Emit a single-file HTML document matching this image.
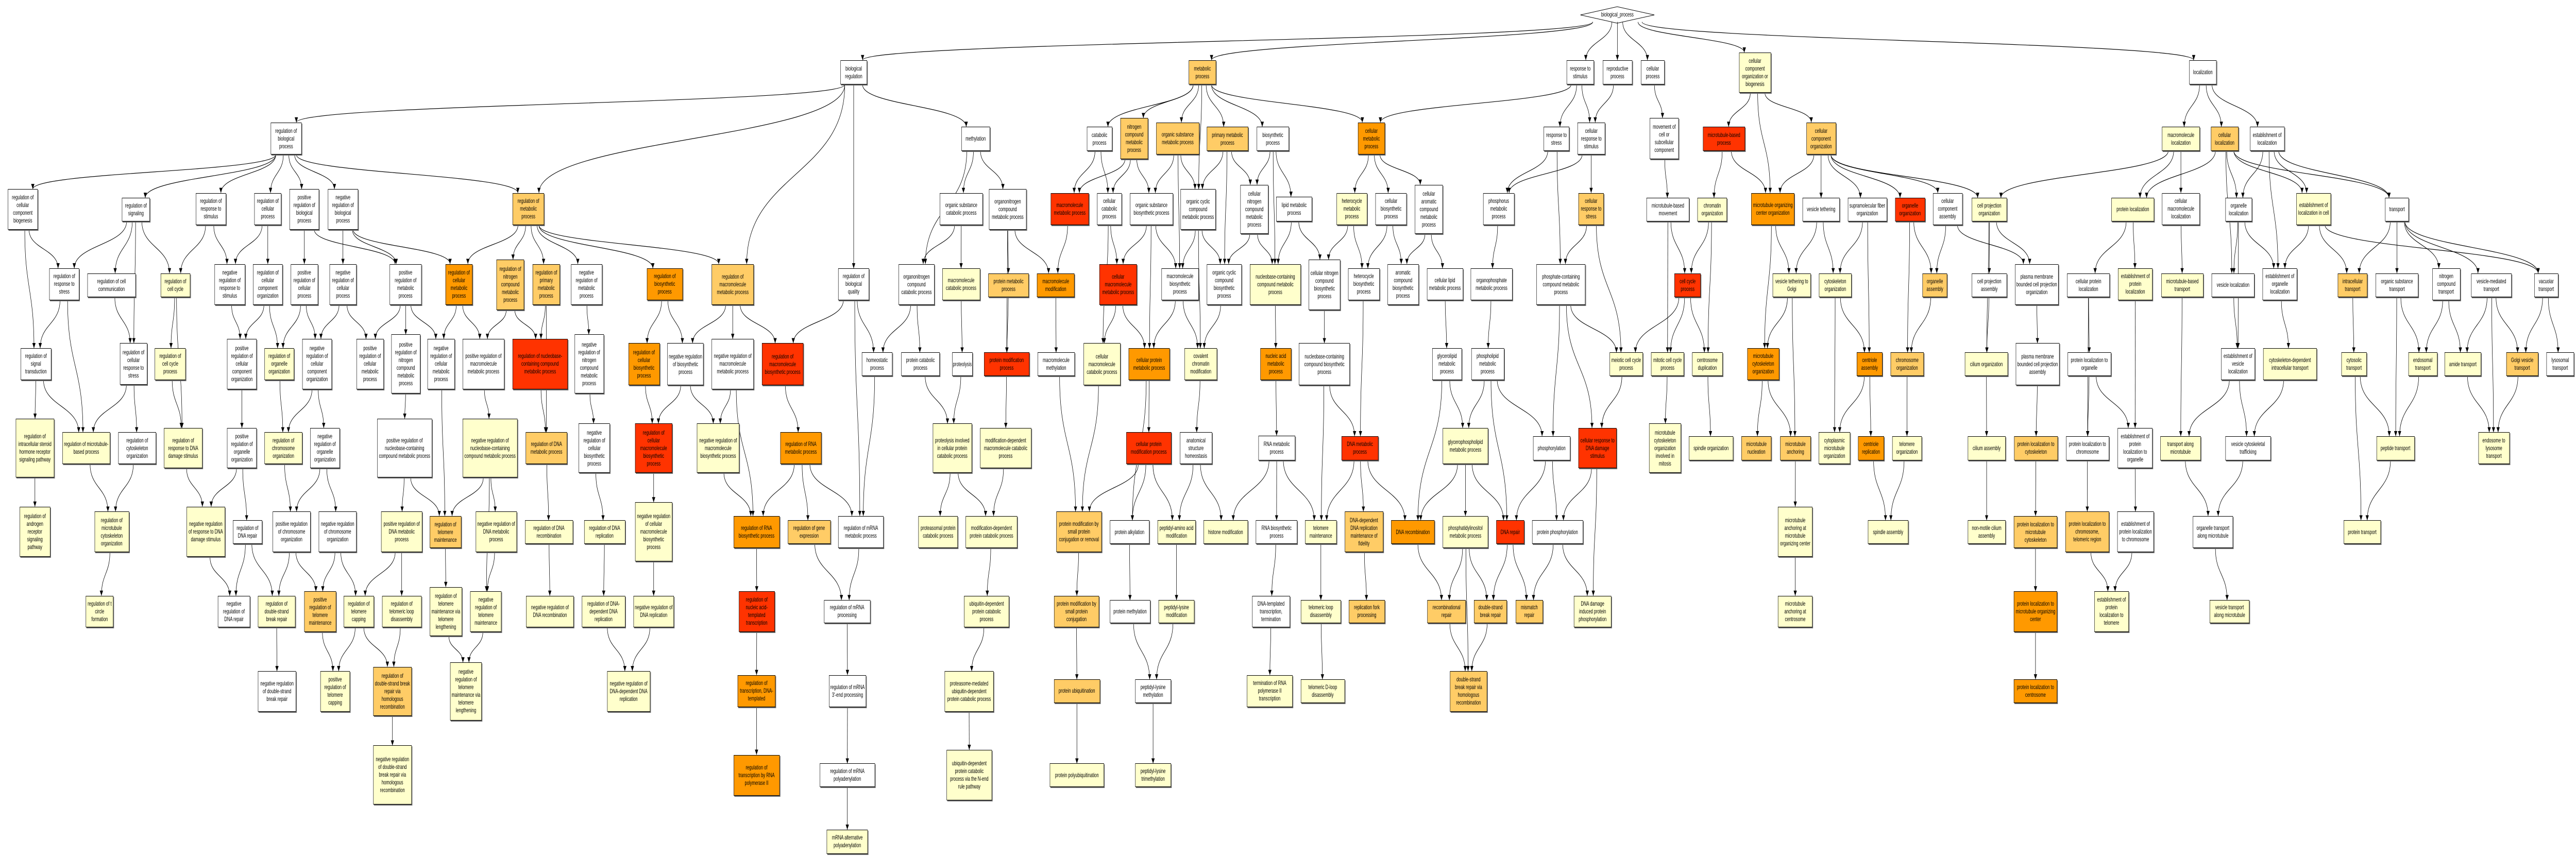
<!DOCTYPE html>
<html><head><meta charset="utf-8">
<style>
html,body{margin:0;padding:0;background:#fff;overflow:hidden;}
#c{position:relative;width:7840px;height:1664px;overflow:hidden;background:#fff;font-family:"Liberation Sans",sans-serif;transform-origin:0 0;}
.g{position:absolute;left:0;top:0;--sx:1.25;}
.n{position:absolute;box-sizing:border-box;
left:calc((var(--o) + var(--x)*var(--sx))*1px);top:calc(var(--y)*1.0612px);
width:calc((var(--x2) - var(--x))*var(--sx)*1px);height:calc((var(--y2) - var(--y))*1.0612px);
border:1px solid #000;box-shadow:2px 2px 0 #666;display:flex;align-items:center;justify-content:center;
text-align:center;font-size:12px;line-height:15px;padding:1px 3px;overflow:hidden;color:#000;z-index:2;background:#fff;}
.W{background:#fff}.Y{background:#ffffcc}.L{background:#ffcc66}.O{background:#ff9900}.R{background:#ff3300}
.root{border:none;box-shadow:none;background:transparent;}
svg#e{position:absolute;left:0;top:0;z-index:1;}
</style></head><body><div id="c">
<svg id="e" width="7840" height="1664"><defs><marker id="a" viewBox="0 0 10 10" refX="10" refY="5" markerWidth="10" markerHeight="10" markerUnits="userSpaceOnUse" orient="auto"><path d="M0,0L10,5L0,10z" fill="#000"/></marker></defs>
<polygon points="4810,29 4922,13 5035,29 4922,45" fill="#fff" stroke="#000"/></svg>

<div class="g" style="--o:0">
<div class="n W" style="--x:659;--y:224;--x2:734;--y2:283">regulation of biological process</div>
<div class="n W" style="--x:19;--y:346;--x2:92;--y2:420">regulation of cellular component biogenesis</div>
<div class="n W" style="--x:297;--y:362;--x2:365;--y2:405">regulation of signaling</div>
<div class="n W" style="--x:477;--y:353;--x2:550;--y2:412">regulation of response to stimulus</div>
<div class="n W" style="--x:619;--y:353;--x2:685;--y2:412">regulation of cellular process</div>
<div class="n W" style="--x:705;--y:346;--x2:777;--y2:420">positive regulation of biological process</div>
<div class="n W" style="--x:798;--y:346;--x2:872;--y2:420">negative regulation of biological process</div>
<div class="n L" style="--x:1248;--y:353;--x2:1325;--y2:412">regulation of metabolic process</div>
<div class="n W" style="--x:120;--y:491;--x2:193;--y2:549">regulation of response to stress</div>
<div class="n W" style="--x:213;--y:500;--x2:330;--y2:544">regulation of cell communication</div>
<div class="n Y" style="--x:391;--y:500;--x2:463;--y2:544">regulation of cell cycle</div>
<div class="n W" style="--x:522;--y:483;--x2:597;--y2:558">negative regulation of response to stimulus</div>
<div class="n W" style="--x:616;--y:483;--x2:688;--y2:558">regulation of cellular component organization</div>
<div class="n W" style="--x:708;--y:483;--x2:774;--y2:558">positive regulation of cellular process</div>
<div class="n W" style="--x:802;--y:483;--x2:868;--y2:558">negative regulation of cellular process</div>
<div class="n W" style="--x:949;--y:483;--x2:1026;--y2:558">positive regulation of metabolic process</div>
<div class="n O" style="--x:1085;--y:483;--x2:1150;--y2:558">regulation of cellular metabolic process</div>
<div class="n L" style="--x:1209;--y:475;--x2:1276;--y2:567">regulation of nitrogen compound metabolic process</div>
<div class="n L" style="--x:1297;--y:483;--x2:1363;--y2:558">regulation of primary metabolic process</div>
<div class="n W" style="--x:1390;--y:483;--x2:1466;--y2:558">negative regulation of metabolic process</div>
<div class="n W" style="--x:50;--y:637;--x2:125;--y2:695">regulation of signal transduction</div>
<div class="n W" style="--x:292;--y:628;--x2:358;--y2:704">regulation of cellular response to stress</div>
<div class="n Y" style="--x:377;--y:637;--x2:452;--y2:695">regulation of cell cycle process</div>
<div class="n W" style="--x:553;--y:620;--x2:625;--y2:712">positive regulation of cellular component organization</div>
<div class="n Y" style="--x:644;--y:637;--x2:716;--y2:695">regulation of organelle organization</div>
<div class="n W" style="--x:736;--y:620;--x2:808;--y2:712">negative regulation of cellular component organization</div>
<div class="n W" style="--x:868;--y:620;--x2:934;--y2:712">positive regulation of cellular metabolic process</div>
<div class="n W" style="--x:953;--y:612;--x2:1023;--y2:720">positive regulation of nitrogen compound metabolic process</div>
<div class="n W" style="--x:1041;--y:620;--x2:1107;--y2:712">negative regulation of cellular metabolic process</div>
<div class="n W" style="--x:1126;--y:620;--x2:1228;--y2:712">positive regulation of macromolecule metabolic process</div>
<div class="n R" style="--x:1248;--y:620;--x2:1382;--y2:712">regulation of nucleobase-containing compound metabolic process</div>
<div class="n W" style="--x:1399;--y:612;--x2:1470;--y2:720">negative regulation of nitrogen compound metabolic process</div>
<div class="n Y" style="--x:38;--y:766;--x2:132;--y2:874">regulation of intracellular steroid hormone receptor signaling pathway</div>
<div class="n Y" style="--x:152;--y:791;--x2:268;--y2:849">regulation of microtubule-based process</div>
<div class="n W" style="--x:288;--y:791;--x2:380;--y2:849">regulation of cytoskeleton organization</div>
<div class="n Y" style="--x:399;--y:783;--x2:493;--y2:857">regulation of response to DNA damage stimulus</div>
<div class="n W" style="--x:553;--y:783;--x2:625;--y2:857">positive regulation of organelle organization</div>
<div class="n Y" style="--x:644;--y:791;--x2:736;--y2:849">regulation of chromosome organization</div>
<div class="n W" style="--x:755;--y:783;--x2:827;--y2:857">negative regulation of organelle organization</div>
<div class="n W" style="--x:918;--y:766;--x2:1052;--y2:874">positive regulation of nucleobase-containing compound metabolic process</div>
<div class="n Y" style="--x:1126;--y:766;--x2:1260;--y2:874">negative regulation of nucleobase-containing compound metabolic process</div>
<div class="n L" style="--x:1280;--y:791;--x2:1381;--y2:849">regulation of DNA metabolic process</div>
<div class="n W" style="--x:1409;--y:775;--x2:1485;--y2:865">negative regulation of cellular biosynthetic process</div>
<div class="n Y" style="--x:48;--y:927;--x2:122;--y2:1019">regulation of androgen receptor signaling pathway</div>
<div class="n Y" style="--x:230;--y:936;--x2:314;--y2:1010">regulation of microtubule cytoskeleton organization</div>
<div class="n Y" style="--x:454;--y:927;--x2:548;--y2:1019">negative regulation of response to DNA damage stimulus</div>
<div class="n W" style="--x:567;--y:952;--x2:638;--y2:995">regulation of DNA repair</div>
<div class="n W" style="--x:664;--y:936;--x2:756;--y2:1010">positive regulation of chromosome organization</div>
<div class="n W" style="--x:776;--y:936;--x2:868;--y2:1010">negative regulation of chromosome organization</div>
<div class="n Y" style="--x:928;--y:936;--x2:1028;--y2:1010">positive regulation of DNA metabolic process</div>
<div class="n L" style="--x:1046;--y:944;--x2:1123;--y2:1003">regulation of telomere maintenance</div>
<div class="n Y" style="--x:1158;--y:936;--x2:1258;--y2:1010">negative regulation of DNA metabolic process</div>
<div class="n Y" style="--x:1278;--y:952;--x2:1395;--y2:995">regulation of DNA recombination</div>
<div class="n Y" style="--x:1422;--y:952;--x2:1522;--y2:995">regulation of DNA replication</div>
<div class="n Y" style="--x:209;--y:1090;--x2:276;--y2:1148">regulation of t circle formation</div>
<div class="n W" style="--x:530;--y:1090;--x2:609;--y2:1148">negative regulation of DNA repair</div>
<div class="n Y" style="--x:628;--y:1090;--x2:719;--y2:1148">regulation of double-strand break repair</div>
<div class="n L" style="--x:741;--y:1082;--x2:818;--y2:1156">positive regulation of telomere maintenance</div>
<div class="n Y" style="--x:837;--y:1090;--x2:910;--y2:1148">regulation of telomere capping</div>
<div class="n Y" style="--x:930;--y:1090;--x2:1026;--y2:1148">regulation of telomeric loop disassembly</div>
<div class="n Y" style="--x:1046;--y:1074;--x2:1125;--y2:1164">regulation of telomere maintenance via telomere lengthening</div>
<div class="n Y" style="--x:1145;--y:1082;--x2:1221;--y2:1156">negative regulation of telomere maintenance</div>
<div class="n Y" style="--x:1281;--y:1090;--x2:1397;--y2:1148">negative regulation of DNA recombination</div>
<div class="n Y" style="--x:1417;--y:1090;--x2:1522;--y2:1148">regulation of DNA-dependent DNA replication</div>
<div class="n W" style="--x:628;--y:1228;--x2:721;--y2:1302">negative regulation of double-strand break repair</div>
<div class="n Y" style="--x:780;--y:1228;--x2:852;--y2:1302">positive regulation of telomere capping</div>
<div class="n L" style="--x:909;--y:1220;--x2:1002;--y2:1310">regulation of double-strand break repair via homologous recombination</div>
<div class="n Y" style="--x:1096;--y:1212;--x2:1173;--y2:1318">negative regulation of telomere maintenance via telomere lengthening</div>
<div class="n Y" style="--x:1478;--y:1228;--x2:1583;--y2:1302">negative regulation of DNA-dependent DNA replication</div>
<div class="n Y" style="--x:909;--y:1364;--x2:1002;--y2:1472">negative regulation of double-strand break repair via homologous recombination</div>
<div class="n O" style="--x:1530;--y:628;--x2:1606;--y2:705">regulation of cellular biosynthetic process</div>
<div class="n R" style="--x:1546;--y:775;--x2:1637;--y2:865">regulation of cellular macromolecule biosynthetic process</div>
<div class="n Y" style="--x:1546;--y:919;--x2:1637;--y2:1027">negative regulation of cellular macromolecule biosynthetic process</div>
<div class="n Y" style="--x:1542;--y:1090;--x2:1641;--y2:1148">negative regulation of DNA replication</div>
</div>

<div class="g" style="--o:1960">
<div class="n W" style="--x:478;--y:110;--x2:543;--y2:155">biological regulation</div>
<div class="n L" style="--x:1326;--y:110;--x2:1393;--y2:155">metabolic process</div>
<div class="n W" style="--x:773;--y:232;--x2:842;--y2:276">methylation</div>
<div class="n W" style="--x:1078;--y:232;--x2:1140;--y2:276">catabolic process</div>
<div class="n L" style="--x:1160;--y:216;--x2:1227;--y2:291">nitrogen compound metabolic process</div>
<div class="n L" style="--x:1247;--y:224;--x2:1352;--y2:283">organic substance metabolic process</div>
<div class="n L" style="--x:1370;--y:232;--x2:1471;--y2:276">primary metabolic process</div>
<div class="n W" style="--x:1492;--y:232;--x2:1570;--y2:276">biosynthetic process</div>
<div class="n W" style="--x:720;--y:353;--x2:825;--y2:412">organic substance catabolic process</div>
<div class="n W" style="--x:840;--y:346;--x2:931;--y2:420">organonitrogen compound metabolic process</div>
<div class="n R" style="--x:990;--y:353;--x2:1083;--y2:412">macromolecule metabolic process</div>
<div class="n W" style="--x:1103;--y:353;--x2:1163;--y2:412">cellular catabolic process</div>
<div class="n W" style="--x:1183;--y:353;--x2:1288;--y2:412">organic substance biosynthetic process</div>
<div class="n W" style="--x:1306;--y:346;--x2:1392;--y2:420">organic cyclic compound metabolic process</div>
<div class="n W" style="--x:1452;--y:338;--x2:1520;--y2:428">cellular nitrogen compound metabolic process</div>
<div class="n O" style="--x:7;--y:491;--x2:94;--y2:549">regulation of biosynthetic process</div>
<div class="n L" style="--x:165;--y:483;--x2:267;--y2:558">regulation of macromolecule metabolic process</div>
<div class="n W" style="--x:473;--y:491;--x2:548;--y2:549">regulation of biological quality</div>
<div class="n W" style="--x:620;--y:483;--x2:707;--y2:558">organonitrogen compound catabolic process</div>
<div class="n Y" style="--x:726;--y:491;--x2:818;--y2:549">macromolecule catabolic process</div>
<div class="n L" style="--x:838;--y:500;--x2:937;--y2:544">protein metabolic process</div>
<div class="n O" style="--x:957;--y:500;--x2:1048;--y2:544">macromolecule modification</div>
<div class="n R" style="--x:1109;--y:483;--x2:1200;--y2:558">cellular macromolecule metabolic process</div>
<div class="n W" style="--x:1260;--y:491;--x2:1350;--y2:549">macromolecule biosynthetic process</div>
<div class="n W" style="--x:1370;--y:483;--x2:1455;--y2:558">organic cyclic compound biosynthetic process</div>
<div class="n W" style="--x:57;--y:628;--x2:145;--y2:705">negative regulation of biosynthetic process</div>
<div class="n W" style="--x:165;--y:620;--x2:267;--y2:712">negative regulation of macromolecule metabolic process</div>
<div class="n R" style="--x:287;--y:628;--x2:388;--y2:705">regulation of macromolecule biosynthetic process</div>
<div class="n W" style="--x:530;--y:645;--x2:605;--y2:688">homeostatic process</div>
<div class="n W" style="--x:626;--y:645;--x2:720;--y2:688">protein catabolic process</div>
<div class="n W" style="--x:750;--y:645;--x2:800;--y2:688">proteolysis</div>
<div class="n R" style="--x:828;--y:645;--x2:938;--y2:688">protein modification process</div>
<div class="n W" style="--x:958;--y:645;--x2:1049;--y2:688">macromolecule methylation</div>
<div class="n Y" style="--x:1070;--y:628;--x2:1160;--y2:705">cellular macromolecule catabolic process</div>
<div class="n O" style="--x:1180;--y:637;--x2:1280;--y2:695">cellular protein metabolic process</div>
<div class="n Y" style="--x:1316;--y:637;--x2:1395;--y2:695">covalent chromatin modification</div>
<div class="n Y" style="--x:129;--y:775;--x2:232;--y2:865">negative regulation of macromolecule biosynthetic process</div>
<div class="n O" style="--x:332;--y:791;--x2:432;--y2:849">regulation of RNA metabolic process</div>
<div class="n Y" style="--x:703;--y:775;--x2:798;--y2:865">proteolysis involved in cellular protein catabolic process</div>
<div class="n Y" style="--x:818;--y:783;--x2:943;--y2:857">modification-dependent macromolecule catabolic process</div>
<div class="n R" style="--x:1174;--y:791;--x2:1284;--y2:849">cellular protein modification process</div>
<div class="n W" style="--x:1305;--y:791;--x2:1383;--y2:849">anatomical structure homeostasis</div>
<div class="n O" style="--x:218;--y:944;--x2:330;--y2:1003">regulation of RNA biosynthetic process</div>
<div class="n L" style="--x:350;--y:952;--x2:454;--y2:995">regulation of gene expression</div>
<div class="n W" style="--x:473;--y:944;--x2:583;--y2:1003">regulation of mRNA metabolic process</div>
<div class="n Y" style="--x:668;--y:944;--x2:764;--y2:1003">proteasomal protein catabolic process</div>
<div class="n Y" style="--x:783;--y:944;--x2:909;--y2:1003">modification-dependent protein catabolic process</div>
<div class="n L" style="--x:1004;--y:936;--x2:1114;--y2:1010">protein modification by small protein conjugation or removal</div>
<div class="n W" style="--x:1134;--y:952;--x2:1230;--y2:995">protein alkylation</div>
<div class="n Y" style="--x:1250;--y:952;--x2:1343;--y2:995">peptidyl-amino acid modification</div>
<div class="n Y" style="--x:1362;--y:952;--x2:1470;--y2:995">histone modification</div>
<div class="n R" style="--x:231;--y:1082;--x2:318;--y2:1156">regulation of nucleic acid-templated transcription</div>
<div class="n W" style="--x:438;--y:1098;--x2:551;--y2:1140">regulation of mRNA processing</div>
<div class="n Y" style="--x:779;--y:1090;--x2:889;--y2:1148">ubiquitin-dependent protein catabolic process</div>
<div class="n L" style="--x:998;--y:1090;--x2:1108;--y2:1148">protein modification by small protein conjugation</div>
<div class="n W" style="--x:1134;--y:1098;--x2:1233;--y2:1140">protein methylation</div>
<div class="n Y" style="--x:1253;--y:1098;--x2:1340;--y2:1140">peptidyl-lysine modification</div>
<div class="n O" style="--x:228;--y:1235;--x2:320;--y2:1294">regulation of transcription, DNA-templated</div>
<div class="n W" style="--x:450;--y:1235;--x2:541;--y2:1294">regulation of mRNA 3'-end processing</div>
<div class="n Y" style="--x:732;--y:1228;--x2:851;--y2:1302">proteasome-mediated ubiquitin-dependent protein catabolic process</div>
<div class="n L" style="--x:998;--y:1243;--x2:1110;--y2:1286">protein ubiquitination</div>
<div class="n W" style="--x:1196;--y:1243;--x2:1283;--y2:1286">peptidyl-lysine methylation</div>
<div class="n O" style="--x:218;--y:1381;--x2:330;--y2:1456">regulation of transcription by RNA polymerase II</div>
<div class="n W" style="--x:428;--y:1397;--x2:562;--y2:1440">regulation of mRNA polyadenylation</div>
<div class="n Y" style="--x:737;--y:1372;--x2:847;--y2:1464">ubiquitin-dependent protein catabolic process via the N-end rule pathway</div>
<div class="n Y" style="--x:988;--y:1397;--x2:1120;--y2:1440">protein polyubiquitination</div>
<div class="n Y" style="--x:1196;--y:1397;--x2:1283;--y2:1440">peptidyl-lysine trimethylation</div>
<div class="n Y" style="--x:445;--y:1518;--x2:545;--y2:1562">mRNA alternative polyadenylation</div>
</div>

<div class="g" style="--o:3560;--sx:.4464">
<div class="n W" style="--x:726;--y:360;--x2:971;--y2:405">lipid metabolic process</div>
<div class="n Y" style="--x:547;--y:483;--x2:893;--y2:558">nucleobase-containing compound metabolic process</div>
<div class="n W" style="--x:947;--y:475;--x2:1163;--y2:567">cellular nitrogen compound biosynthetic process</div>
<div class="n O" style="--x:619;--y:637;--x2:828;--y2:695">nucleic acid metabolic process</div>
<div class="n W" style="--x:881;--y:628;--x2:1228;--y2:705">nucleobase-containing compound biosynthetic process</div>
<div class="n W" style="--x:604;--y:797;--x2:855;--y2:842">RNA metabolic process</div>
<div class="n W" style="--x:588;--y:952;--x2:869;--y2:995">RNA biosynthetic process</div>
<div class="n Y" style="--x:923;--y:952;--x2:1138;--y2:995">telomere maintenance</div>
<div class="n W" style="--x:562;--y:1090;--x2:819;--y2:1148">DNA-templated transcription, termination</div>
<div class="n Y" style="--x:526;--y:1235;--x2:837;--y2:1294">termination of RNA polymerase II transcription</div>
</div>

<div class="g" style="--o:3920">
<div class="n root" style="--x:712;--y:12;--x2:892;--y2:42;">biological_process</div>
<div class="n W" style="--x:678;--y:110;--x2:745;--y2:155">response to stimulus</div>
<div class="n W" style="--x:766;--y:110;--x2:838;--y2:155">reproductive process</div>
<div class="n W" style="--x:859;--y:110;--x2:917;--y2:155">cellular process</div>
<div class="n Y" style="--x:1098;--y:96;--x2:1176;--y2:170">cellular component organization or biogenesis</div>
<div class="n O" style="--x:170;--y:224;--x2:236;--y2:283">cellular metabolic process</div>
<div class="n W" style="--x:622;--y:232;--x2:685;--y2:276">response to stress</div>
<div class="n W" style="--x:705;--y:224;--x2:772;--y2:283">cellular response to stimulus</div>
<div class="n W" style="--x:881;--y:216;--x2:951;--y2:291">movement of cell or subcellular component</div>
<div class="n R" style="--x:1010;--y:232;--x2:1113;--y2:276">microtubule-based process</div>
<div class="n L" style="--x:1262;--y:224;--x2:1334;--y2:283">cellular component organization</div>
<div class="n Y" style="--x:118;--y:353;--x2:193;--y2:412">heterocycle metabolic process</div>
<div class="n W" style="--x:213;--y:353;--x2:289;--y2:412">cellular biosynthetic process</div>
<div class="n W" style="--x:309;--y:338;--x2:377;--y2:428">cellular aromatic compound metabolic process</div>
<div class="n W" style="--x:475;--y:353;--x2:551;--y2:412">phosphorus metabolic process</div>
<div class="n L" style="--x:707;--y:353;--x2:769;--y2:412">cellular response to stress</div>
<div class="n W" style="--x:873;--y:362;--x2:977;--y2:405">microtubule-based movement</div>
<div class="n Y" style="--x:997;--y:362;--x2:1069;--y2:405">chromatin organization</div>
<div class="n O" style="--x:1128;--y:353;--x2:1233;--y2:412">microtubule organizing center organization</div>
<div class="n W" style="--x:1253;--y:362;--x2:1343;--y2:405">vesicle tethering</div>
<div class="n W" style="--x:1363;--y:362;--x2:1458;--y2:405">supramolecular fiber organization</div>
<div class="n R" style="--x:1478;--y:362;--x2:1551;--y2:405">organelle organization</div>
<div class="n W" style="--x:146;--y:491;--x2:223;--y2:549">heterocycle biosynthetic process</div>
<div class="n W" style="--x:242;--y:483;--x2:318;--y2:558">aromatic compound biosynthetic process</div>
<div class="n W" style="--x:338;--y:491;--x2:426;--y2:549">cellular lipid metabolic process</div>
<div class="n W" style="--x:445;--y:491;--x2:546;--y2:549">organophosphate metabolic process</div>
<div class="n W" style="--x:605;--y:483;--x2:724;--y2:558">phosphate-containing compound metabolic process</div>
<div class="n R" style="--x:941;--y:500;--x2:1005;--y2:544">cell cycle process</div>
<div class="n Y" style="--x:1180;--y:500;--x2:1273;--y2:544">vesicle tethering to Golgi</div>
<div class="n Y" style="--x:1293;--y:500;--x2:1372;--y2:544">cytoskeleton organization</div>
<div class="n L" style="--x:1545;--y:500;--x2:1605;--y2:544">organelle assembly</div>
<div class="n W" style="--x:351;--y:637;--x2:423;--y2:695">glycerolipid metabolic process</div>
<div class="n W" style="--x:446;--y:637;--x2:526;--y2:695">phospholipid metabolic process</div>
<div class="n Y" style="--x:783;--y:645;--x2:864;--y2:688">meiotic cell cycle process</div>
<div class="n Y" style="--x:884;--y:645;--x2:964;--y2:688">mitotic cell cycle process</div>
<div class="n Y" style="--x:984;--y:645;--x2:1058;--y2:688">centrosome duplication</div>
<div class="n O" style="--x:1118;--y:637;--x2:1196;--y2:695">microtubule cytoskeleton organization</div>
<div class="n O" style="--x:1385;--y:645;--x2:1447;--y2:688">centriole assembly</div>
<div class="n L" style="--x:1467;--y:645;--x2:1548;--y2:688">chromosome organization</div>
<div class="n R" style="--x:130;--y:798;--x2:220;--y2:842">DNA metabolic process</div>
<div class="n Y" style="--x:377;--y:783;--x2:487;--y2:849">glycerophospholipid metabolic process</div>
<div class="n W" style="--x:597;--y:798;--x2:687;--y2:842">phosphorylation</div>
<div class="n R" style="--x:707;--y:783;--x2:800;--y2:857">cellular response to DNA damage stimulus</div>
<div class="n Y" style="--x:879;--y:775;--x2:957;--y2:865">microtubule cytoskeleton organization involved in mitosis</div>
<div class="n Y" style="--x:976;--y:798;--x2:1084;--y2:842">spindle organization</div>
<div class="n L" style="--x:1104;--y:798;--x2:1177;--y2:842">microtubule nucleation</div>
<div class="n L" style="--x:1198;--y:798;--x2:1273;--y2:842">microtubule anchoring</div>
<div class="n Y" style="--x:1292;--y:791;--x2:1369;--y2:849">cytoplasmic microtubule organization</div>
<div class="n O" style="--x:1388;--y:798;--x2:1451;--y2:842">centriole replication</div>
<div class="n Y" style="--x:1471;--y:798;--x2:1543;--y2:842">telomere organization</div>
<div class="n L" style="--x:138;--y:936;--x2:232;--y2:1010">DNA-dependent DNA replication maintenance of fidelity</div>
<div class="n O" style="--x:251;--y:952;--x2:357;--y2:995">DNA recombination</div>
<div class="n Y" style="--x:377;--y:944;--x2:487;--y2:1003">phosphatidylinositol metabolic process</div>
<div class="n R" style="--x:507;--y:952;--x2:575;--y2:995">DNA repair</div>
<div class="n W" style="--x:594;--y:952;--x2:718;--y2:995">protein phosphorylation</div>
<div class="n Y" style="--x:1193;--y:927;--x2:1277;--y2:1019">microtubule anchoring at microtubule organizing center</div>
<div class="n Y" style="--x:1412;--y:952;--x2:1510;--y2:995">spindle assembly</div>
<div class="n Y" style="--x:31;--y:1098;--x2:129;--y2:1140">telomeric loop disassembly</div>
<div class="n L" style="--x:148;--y:1098;--x2:236;--y2:1140">replication fork processing</div>
<div class="n L" style="--x:339;--y:1098;--x2:433;--y2:1140">recombinational repair</div>
<div class="n L" style="--x:453;--y:1098;--x2:533;--y2:1140">double-strand break repair</div>
<div class="n L" style="--x:554;--y:1098;--x2:621;--y2:1140">mismatch repair</div>
<div class="n Y" style="--x:696;--y:1090;--x2:787;--y2:1148">DNA damage induced protein phosphorylation</div>
<div class="n Y" style="--x:1193;--y:1090;--x2:1277;--y2:1148">microtubule anchoring at centrosome</div>
<div class="n Y" style="--x:31;--y:1243;--x2:138;--y2:1286">telomeric D-loop disassembly</div>
<div class="n L" style="--x:394;--y:1228;--x2:485;--y2:1302">double-strand break repair via homologous recombination</div>
</div>

<div class="g" style="--o:5880">
<div class="n W" style="--x:626;--y:110;--x2:693;--y2:155">localization</div>
<div class="n Y" style="--x:560;--y:232;--x2:652;--y2:276">macromolecule localization</div>
<div class="n L" style="--x:679;--y:232;--x2:746;--y2:276">cellular localization</div>
<div class="n W" style="--x:774;--y:232;--x2:858;--y2:276">establishment of localization</div>
<div class="n W" style="--x:2;--y:353;--x2:74;--y2:412">cellular component assembly</div>
<div class="n Y" style="--x:97;--y:362;--x2:182;--y2:405">cell projection organization</div>
<div class="n Y" style="--x:437;--y:362;--x2:541;--y2:405">protein localization</div>
<div class="n W" style="--x:560;--y:353;--x2:652;--y2:412">cellular macromolecule localization</div>
<div class="n W" style="--x:714;--y:362;--x2:779;--y2:405">organelle localization</div>
<div class="n Y" style="--x:887;--y:353;--x2:971;--y2:412">establishment of localization in cell</div>
<div class="n W" style="--x:1103;--y:362;--x2:1161;--y2:405">transport</div>
<div class="n W" style="--x:97;--y:500;--x2:182;--y2:544">cell projection assembly</div>
<div class="n W" style="--x:202;--y:483;--x2:308;--y2:558">plasma membrane bounded cell projection organization</div>
<div class="n W" style="--x:329;--y:500;--x2:433;--y2:544">cellular protein localization</div>
<div class="n Y" style="--x:453;--y:491;--x2:537;--y2:549">establishment of protein localization</div>
<div class="n Y" style="--x:558;--y:500;--x2:661;--y2:544">microtubule-based transport</div>
<div class="n W" style="--x:681;--y:500;--x2:785;--y2:544">vesicle localization</div>
<div class="n W" style="--x:805;--y:491;--x2:889;--y2:549">establishment of organelle localization</div>
<div class="n L" style="--x:988;--y:500;--x2:1060;--y2:544">intracellular transport</div>
<div class="n W" style="--x:1080;--y:500;--x2:1184;--y2:544">organic substance transport</div>
<div class="n W" style="--x:1218;--y:491;--x2:1286;--y2:549">nitrogen compound transport</div>
<div class="n W" style="--x:1313;--y:500;--x2:1411;--y2:544">vesicle-mediated transport</div>
<div class="n W" style="--x:1466;--y:500;--x2:1525;--y2:544">vacuolar transport</div>
<div class="n Y" style="--x:80;--y:645;--x2:185;--y2:688">cilium organization</div>
<div class="n W" style="--x:204;--y:628;--x2:310;--y2:705">plasma membrane bounded cell projection assembly</div>
<div class="n W" style="--x:330;--y:645;--x2:436;--y2:688">protein localization to organelle</div>
<div class="n W" style="--x:704;--y:637;--x2:786;--y2:695">establishment of vesicle localization</div>
<div class="n Y" style="--x:806;--y:637;--x2:937;--y2:695">cytoskeleton-dependent intracellular transport</div>
<div class="n Y" style="--x:997;--y:645;--x2:1058;--y2:688">cytosolic transport</div>
<div class="n Y" style="--x:1160;--y:645;--x2:1230;--y2:688">endosomal transport</div>
<div class="n Y" style="--x:1248;--y:645;--x2:1337;--y2:688">amide transport</div>
<div class="n L" style="--x:1398;--y:645;--x2:1476;--y2:688">Golgi vesicle transport</div>
<div class="n W" style="--x:1496;--y:645;--x2:1563;--y2:688">lysosomal transport</div>
<div class="n Y" style="--x:87;--y:798;--x2:179;--y2:842">cilium assembly</div>
<div class="n L" style="--x:200;--y:798;--x2:306;--y2:842">protein localization to cytoskeleton</div>
<div class="n W" style="--x:326;--y:798;--x2:431;--y2:842">protein localization to chromosome</div>
<div class="n W" style="--x:452;--y:783;--x2:537;--y2:857">establishment of protein localization to organelle</div>
<div class="n Y" style="--x:556;--y:798;--x2:654;--y2:842">transport along microtubule</div>
<div class="n W" style="--x:714;--y:798;--x2:825;--y2:842">vesicle cytoskeletal trafficking</div>
<div class="n Y" style="--x:1082;--y:798;--x2:1175;--y2:842">peptide transport</div>
<div class="n Y" style="--x:1330;--y:791;--x2:1406;--y2:849">endosome to lysosome transport</div>
<div class="n Y" style="--x:87;--y:952;--x2:179;--y2:995">non-motile cilium assembly</div>
<div class="n L" style="--x:199;--y:944;--x2:305;--y2:1003">protein localization to microtubule cytoskeleton</div>
<div class="n L" style="--x:325;--y:936;--x2:431;--y2:1010">protein localization to chromosome, telomeric region</div>
<div class="n W" style="--x:451;--y:936;--x2:540;--y2:1010">establishment of protein localization to chromosome</div>
<div class="n W" style="--x:635;--y:944;--x2:733;--y2:1003">organelle transport along microtubule</div>
<div class="n Y" style="--x:1002;--y:952;--x2:1093;--y2:995">protein transport</div>
<div class="n O" style="--x:199;--y:1082;--x2:305;--y2:1156">protein localization to microtubule organizing center</div>
<div class="n Y" style="--x:395;--y:1082;--x2:479;--y2:1156">establishment of protein localization to telomere</div>
<div class="n Y" style="--x:676;--y:1098;--x2:773;--y2:1140">vesicle transport along microtubule</div>
<div class="n O" style="--x:199;--y:1243;--x2:305;--y2:1286">protein localization to centrosome</div>
</div>
</div>
<script>
(function(){
var c=document.getElementById('c');
var svg=document.getElementById('e'),ns='http://www.w3.org/2000/svg';
var els=[].slice.call(document.querySelectorAll('.n'));
var R=els.map(function(e){var r=e.getBoundingClientRect();return {l:r.left,t:r.top,r:r.right,b:r.bottom,w:r.right-r.left,cx:(r.left+r.right)/2,root:e.classList.contains('root')};});
function cl(v,m){return Math.max(-m,Math.min(m,v));}
function edge(p,c){var x1=p.cx+cl((c.cx-p.cx)*0.15,p.w/3),y1=p.b,x2=c.cx+cl((p.cx-c.cx)*0.15,c.w/3),y2=c.t;var dy=y2-y1;
if(p.root){y1=p.b-2;}
var path=document.createElementNS(ns,'path');
path.setAttribute('d','M'+x1+','+y1+' C'+x1+','+(y1+dy*0.5)+' '+x2+','+(y2-dy*0.5)+' '+x2+','+y2);
path.setAttribute('fill','none');path.setAttribute('stroke','#000');path.setAttribute('stroke-width','1.2');path.setAttribute('marker-end','url(#a)');svg.appendChild(path);}
R.forEach(function(c,i){if(c.root)return;var cand=[];
R.forEach(function(p,j){if(j===i)return;if(p.b<c.t-15){var s=Math.abs(p.cx-c.cx)+(c.t-p.b)*0.6;cand.push([s,p]);}});
cand.sort(function(a,b){return a[0]-b[0];});
if(cand.length){edge(cand[0][1],c);if(cand.length>1&&cand[1][0]<cand[0][0]*1.4+60)edge(cand[1][1],c);if(cand.length>2&&cand[2][0]<cand[0][0]*1.2+30)edge(cand[2][1],c);}});
var w=window.innerWidth||document.documentElement.clientWidth||7840;
var h=window.innerHeight||document.documentElement.clientHeight||1664;
var sx=w/7840, sy=h/1664;
if(Math.abs(sx-1)>0.01||Math.abs(sy-1)>0.01){c.style.transform='scale('+sx+','+sy+')';}
})();
</script>
</body></html>
